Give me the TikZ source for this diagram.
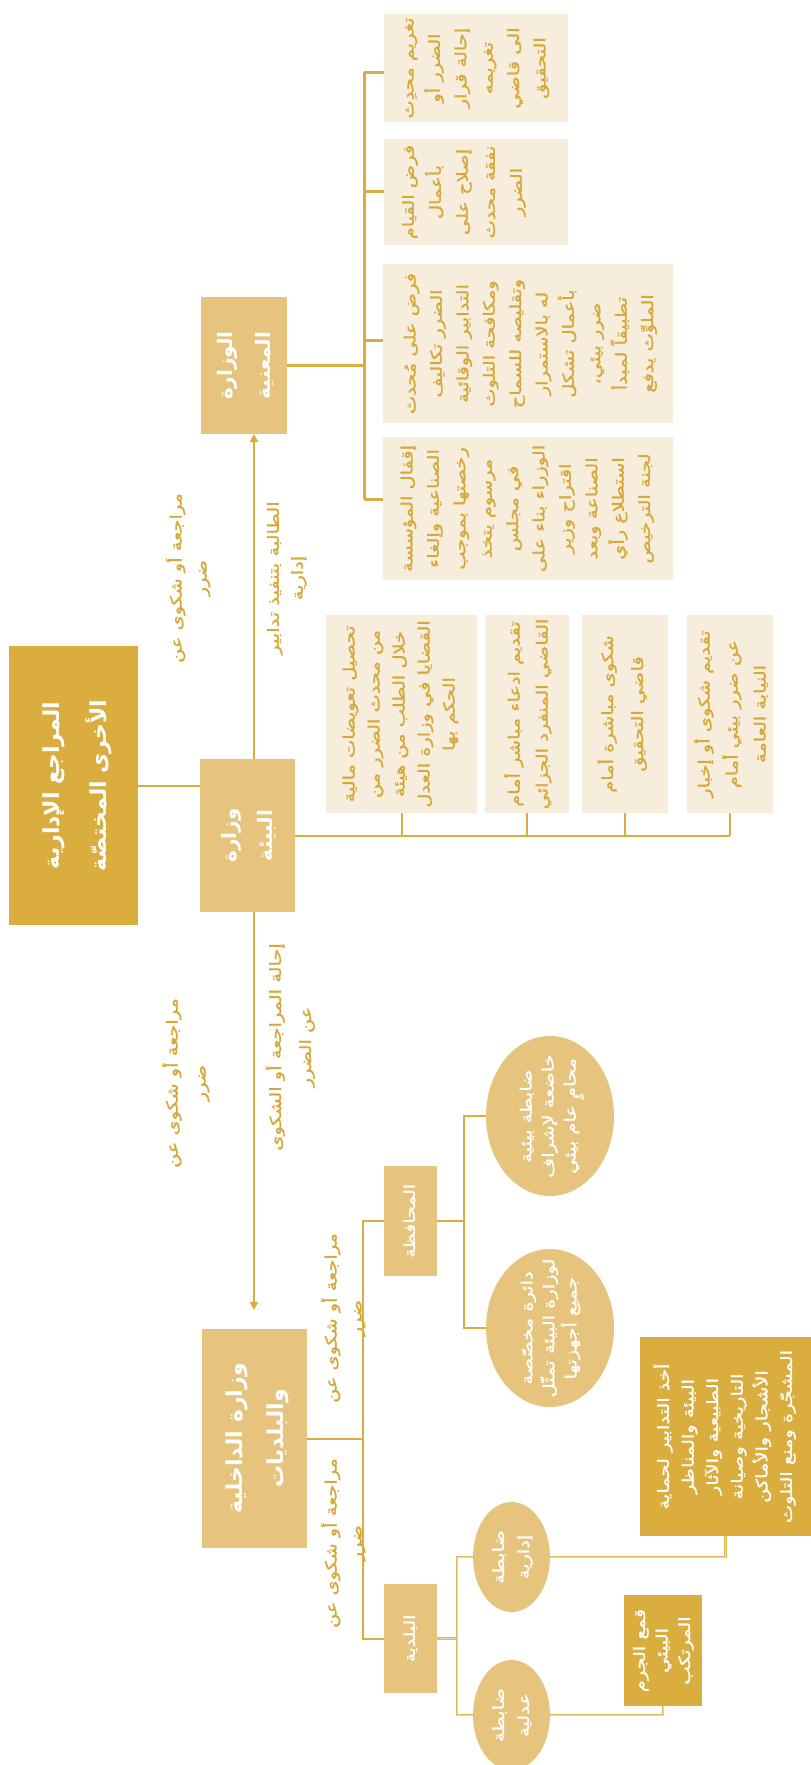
\documentclass[tikz,border=0pt]{standalone}
\usepackage{fontspec}
\usepackage{graphicx}
\newfontfamily\arabicfont[Script=Arabic]{DejaVu Sans}
\newfontfamily\arw[Script=Arabic,FakeStretch=1.25,FakeBold=1.2]{DejaVu Sans}
\TeXXeTstate=1
\usetikzlibrary{shapes.geometric,arrows.meta,calc}
\definecolor{cDark}{HTML}{D9AE3E}
\definecolor{cMid}{HTML}{E6C47E}
\definecolor{cCream}{HTML}{F7EDDC}
\definecolor{cText}{HTML}{D6A838}
\newcommand\vt[3]{\rotatebox{90}{\fontsize{#1}{#2}\selectfont\begin{tabular}{@{}c@{}}#3\end{tabular}}}
\newcommand\lpad[3]{\makebox[#1][l]{\hspace{#2}#3}}
\begin{document}
\begin{tikzpicture}[x=1pt,y=-1pt,
  box/.style={rectangle, inner sep=0pt, outer sep=0pt, draw=none},
  darkbox/.style={box, fill=cDark, text=white, font=\arw},
  midbox/.style={box, fill=cMid, text=white, font=\arw},
  titlebox/.style={box, fill=cMid, text=white, font=\arabicfont\bfseries},
  creambox/.style={box, fill=cCream, text=cText, font=\arw},
  ell/.style={box, text=white, font=\arw,
    path picture={\path let \p1=($(path picture bounding box.north east)-(path picture bounding box.center)$) in
      [fill=cMid] (path picture bounding box.center) ellipse [x radius=\x1, y radius=\y1];}},
  lbl/.style={text=cText, font=\arw, inner sep=0pt},
  conn/.style={draw=cDark, line width=2pt},
  bconn/.style={draw=cDark, line width=3pt},
  lconn/.style={draw=cDark!85, line width=0.7pt, double=cMid!75, double distance=1pt},
  arr/.style={conn, -{Triangle[width=8pt,length=8pt]}}
]
\useasboundingbox (0,0) rectangle (811,1765);

% main boxes
\node[titlebox, fill=cDark, minimum width=129pt, minimum height=279pt] (T) at (73.5,785.5) {\vt{22}{47}{\beginR المراجع الإدارية\endR\\\beginR الأخرى المختصّة\endR}};
\node[titlebox, minimum width=86pt, minimum height=137pt] (Mv) at (244,365.5) {\vt{20}{38}{\beginR الوزارة\endR\\\beginR المعنية\endR}};
\node[titlebox, minimum width=95pt, minimum height=153pt] (Bv) at (247.5,835.5) {\vt{20}{36}{\beginR وزارة\endR\\\beginR البيئة\endR}};
\node[titlebox, minimum width=105pt, minimum height=219pt] (Iv) at (254.5,1438.5) {\vt{22}{41}{\beginR وزارة الداخلية\endR\\\beginR والبلديات\endR}};
\node[midbox, minimum width=53pt, minimum height=110pt] (Gv) at (410.5,1221) {\vt{15}{22}{\beginR المحافظة\endR}};
\node[midbox, minimum width=53pt, minimum height=109pt] (Uv) at (410.5,1638.5) {\vt{15}{22}{\beginR البلدية\endR}};

% cream boxes of the relevant ministry
\node[creambox, minimum width=184pt, minimum height=108pt] (nA) at (476,68) {\lpad{184pt}{11pt}{\vt{15.5}{26.4}{\beginR تغريم محدِث\endR\\\beginR الضرر أو\endR\\\beginR إحالة قرار\endR\\\beginR تغريمه\endR\\\beginR الى قاضي\endR\\\beginR التحقيق\endR}}};
\node[creambox, minimum width=184pt, minimum height=106pt] (nB) at (476,192) {\lpad{184pt}{11pt}{\vt{15.5}{27}{\beginR فرض القيام\endR\\\beginR بأعمال\endR\\\beginR إصلاح على\endR\\\beginR نفقة محدث\endR\\\beginR الضرر\endR}}};
\node[creambox, minimum width=290pt, minimum height=159pt] (nC) at (528,343.5) {\lpad{290pt}{14pt}{\vt{15.5}{26.4}{\beginR فرض على مُحدث\endR\\\beginR الضرر تكاليف\endR\\\beginR التدابير الوقائية\endR\\\beginR ومكافحة التلوث\endR\\\beginR وتقليصه للسماح\endR\\\beginR له بالاستمرار\endR\\\beginR بأعمال تشكل\endR\\\beginR ضرر بيئي،\endR\\\beginR تطبيقاً لمبدأ\endR\\\beginR الملوِّث يدفع\endR}}};
\node[creambox, minimum width=290pt, minimum height=143pt] (nD) at (528,508.5) {\lpad{290pt}{11pt}{\vt{15.5}{26.4}{\beginR إقفال المؤسسة\endR\\\beginR الصناعية وإلغاء\endR\\\beginR رخصتها بموجب\endR\\\beginR مرسوم يتخذ\endR\\\beginR في مجلس\endR\\\beginR الوزراء بناء على\endR\\\beginR اقتراح وزير\endR\\\beginR الصناعة وبعد\endR\\\beginR استطلاع رأي\endR\\\beginR لجنة الترخيص\endR}}};

% cream boxes of the environment ministry
\node[creambox, minimum width=151pt, minimum height=198pt] (nE) at (401.5,714) {\lpad{151pt}{11pt}{\vt{15.5}{25}{\beginR تحصيل تعويضات مالية\endR\\\beginR من محدث الضرر من\endR\\\beginR خلال الطلب من هيئة\endR\\\beginR القضايا في وزارة العدل\endR\\\beginR الحكم بها\endR}}};
\node[creambox, minimum width=84pt, minimum height=198pt] (nF) at (527,714) {\lpad{84pt}{15pt}{\vt{15.5}{28}{\beginR تقديم ادعاء مباشر أمام\endR\\\beginR القاضي المنفرد الجزائي\endR}}};
\node[creambox, minimum width=86pt, minimum height=198pt] (nG) at (625,714) {\lpad{86pt}{10pt}{\vt{15.5}{30}{\beginR شكوى مباشرة أمام\endR\\\beginR قاضي التحقيق\endR}}};
\node[creambox, minimum width=86pt, minimum height=198pt] (nH) at (730,714) {\lpad{86pt}{3pt}{\vt{15.5}{28}{\beginR تقديم شكوى أو إخبار\endR\\\beginR عن ضرر بيئي أمام\endR\\\beginR النيابة العامة\endR}}};

% ellipses
\node[ell, minimum width=128pt, minimum height=160pt] (E1) at (550,1116) {\vt{15.5}{22}{\beginR ضابطة بيئية\endR\\\beginR خاضعة لإشراف\endR\\\beginR محامٍ عام بيئي\endR}};
\node[ell, minimum width=128pt, minimum height=158pt] (E2) at (550,1328) {\vt{15.5}{22}{\beginR دائرة مخصّصة\endR\\\beginR لوزارة البيئة تمثّل\endR\\\beginR جميع أجهزتها\endR}};
\node[ell, minimum width=77pt, minimum height=110pt] (E3) at (511.5,1557) {\vt{15.5}{25}{\beginR ضابطة\endR\\\beginR إدارية\endR}};
\node[ell, minimum width=77pt, minimum height=110pt] (E4) at (511.5,1715) {\vt{15.5}{25}{\beginR ضابطة\endR\\\beginR عدلية\endR}};

% dark boxes at the bottom right
\node[darkbox, minimum width=171pt, minimum height=199pt] (K) at (725.5,1436.5) {\vt{15.5}{24.6}{\beginR أخذ التدابير لحماية\endR\\\beginR البيئة والمناظر\endR\\\beginR الطبيعية والآثار\endR\\\beginR التاريخية وصيانة\endR\\\beginR الأشجار والأماكن\endR\\\beginR المشجّرة ومنع التلوث\endR}};
\node[darkbox, minimum width=78pt, minimum height=111pt] (Q) at (663,1650.5) {\vt{15.5}{22.5}{\beginR قمع الجرم\endR\\\beginR البيئي\endR\\\beginR المرتكب\endR}};

% labels
\node[lbl] (L1) at (189,578) {\vt{15.5}{25}{\beginR مراجعة أو شكوى عن\endR\\\beginR ضرر\endR}};
\node[lbl] (L2) at (286,578) {\vt{15.5}{24}{\beginR الطالبة بتنفيذ تدابير\endR\\\beginR إدارية\endR}};
\node[lbl] (L3) at (186,1083) {\vt{15.5}{28}{\beginR مراجعة أو شكوى عن\endR\\\beginR ضرر\endR}};
\node[lbl] (L4) at (290,1047) {\vt{15.5}{30}{\beginR إحالة المراجعة أو الشكوى\endR\\\beginR عن الضرر\endR}};
\node[lbl] (L5) at (344,1318) {\vt{15.5}{25}{\beginR مراجعة أو شكوى عن\endR\\\beginR ضرر\endR}};
\node[lbl] (L6) at (344,1543) {\vt{15.5}{25}{\beginR مراجعة أو شكوى عن\endR\\\beginR ضرر\endR}};

% connectors
\draw[conn] (T.east) -- (T.east -| Bv.west);
\draw[arr] ([xshift=6.5pt]Bv.north) -- ([xshift=6.5pt]Bv.north |- Mv.south);
\draw[arr, shorten >=19pt] ([xshift=6.5pt]Bv.south) -- ([xshift=6.5pt]Bv.south |- Iv.north);

\coordinate (jA) at (364,72);
\coordinate (jB) at (364,191);
\coordinate (jC) at (364,340);
\coordinate (jD) at (364,499);
\draw[bconn] (Mv.east) -- (Mv.east -| jA);
\draw[bconn] (jA) -- (jD);
\draw[bconn] (jA) -- (jA -| nA.west);
\draw[bconn] (jB) -- (jB -| nB.west);
\draw[bconn] (jC) -- (jC -| nC.west);
\draw[bconn] (jD) -- (jD -| nD.west);

\draw[conn] (Bv.east) -- (Bv.east -| nH.south);
\foreach \n in {nE,nF,nG,nH} \draw[conn] (\n.south) -- (\n.south |- Bv.east);

\path (Gv.west) ++(-21,0) coordinate (gvj);
\path (Uv.west) ++(-21,0) coordinate (uvj);
\draw[conn] (Gv.west) -- (gvj) -- (uvj) -- (Uv.west);
\draw[conn] (Iv.east) -- (Iv.east -| gvj);

\path (E1.west) ++(-22,0) coordinate (e1j);
\path (E2.west) ++(-22,0) coordinate (e2j);
\draw[conn] (E1.west) -- (e1j) -- (e2j) -- (E2.west);
\draw[conn] (Gv.east) -- (Gv.east -| e1j);

\path (E3.west) ++(-16,0) coordinate (e3j);
\path (E4.west) ++(-16,0) coordinate (e4j);
\draw[lconn] (E3.west) -- (e3j) -- (e4j) -- (E4.west);
\draw[lconn] (Uv.east) -- (Uv.east -| e3j);
\draw[lconn] (E3.east) -| (K.south);
\draw[lconn] (E4.east) -| (Q.south);
\end{tikzpicture}
\end{document}
